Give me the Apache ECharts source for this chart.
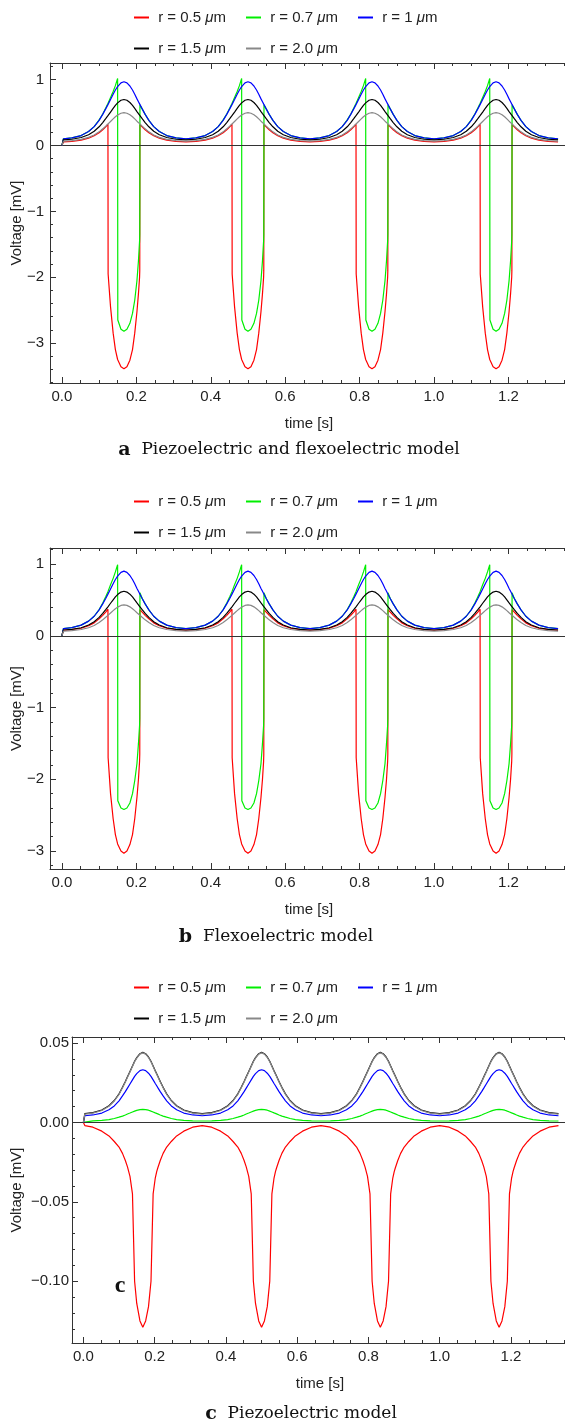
<!DOCTYPE html>
<html><head><meta charset="utf-8">
<script src="https://cdn.jsdelivr.net/npm/echarts@6/dist/echarts.min.js"></script>
<style>html,body{margin:0;padding:0;background:#fff}#c{width:565px;height:1424px}</style>
</head><body><div id="c"></div>
<script>
// time grid [s]
const time = [0, 0.004, 0.0267, 0.0517, 0.0717, 0.0867, 0.1, 0.1097, 0.1177, 0.1237, 0.1242, 0.1307, 0.1377, 0.1437, 0.1497, 0.1502, 0.1587, 0.1667, 0.1747, 0.1827, 0.1897, 0.1957, 0.2017, 0.2057, 0.2087, 0.2092, 0.2097, 0.2157, 0.2237, 0.2337, 0.2467, 0.2617, 0.2817, 0.3067,
  0.3333, 0.36, 0.385, 0.405, 0.42, 0.4333, 0.443, 0.451, 0.457, 0.4575, 0.464, 0.471, 0.477, 0.483, 0.4835, 0.492, 0.5, 0.508, 0.516, 0.523, 0.529, 0.535, 0.539, 0.542, 0.5425, 0.543, 0.549, 0.557, 0.567, 0.58, 0.595, 0.615, 0.64,
  0.6667, 0.6933, 0.7183, 0.7383, 0.7533, 0.7667, 0.7763, 0.7843, 0.7903, 0.7908, 0.7973, 0.8043, 0.8103, 0.8163, 0.8168, 0.8253, 0.8333, 0.8413, 0.8493, 0.8563, 0.8623, 0.8683, 0.8723, 0.8753, 0.8758, 0.8763, 0.8823, 0.8903, 0.9003, 0.9133, 0.9283, 0.9483, 0.9733,
  1.0, 1.0267, 1.0517, 1.0717, 1.0867, 1.1, 1.1097, 1.1177, 1.1237, 1.1242, 1.1307, 1.1377, 1.1437, 1.1497, 1.1502, 1.1587, 1.1667, 1.1747, 1.1827, 1.1897, 1.1957, 1.2017, 1.2057, 1.2087, 1.2092, 1.2097, 1.2157, 1.2237, 1.2337, 1.2467, 1.2617, 1.2817, 1.3067,
  1.3333];

const seriesNames = ['r = 0.5 μm', 'r = 0.7 μm', 'r = 1 μm', 'r = 1.5 μm', 'r = 2.0 μm'];
const seriesColors = ['#ff0000', '#00ee00', '#0000ff', '#000000', '#888888'];

// ---- panel a: piezoelectric and flexoelectric model ----
const redA = [0,
  0.055, 0.063, 0.082, 0.112, 0.15, 0.195, 0.24, 0.283, 0.325, -1.95, -2.45, -2.85, -3.1, -3.25, -3.26, -3.36, -3.39, -3.36, -3.26, -3.1, -2.85, -2.52, -2.25, -2.0, -1.9, 0.32, 0.285, 0.24, 0.195, 0.15, 0.112, 0.082, 0.063,
  0.055, 0.063, 0.082, 0.112, 0.15, 0.195, 0.24, 0.283, 0.325, -1.95, -2.45, -2.85, -3.1, -3.25, -3.26, -3.36, -3.39, -3.36, -3.26, -3.1, -2.85, -2.52, -2.25, -2.0, -1.9, 0.32, 0.285, 0.24, 0.195, 0.15, 0.112, 0.082, 0.063,
  0.055, 0.063, 0.082, 0.112, 0.15, 0.195, 0.24, 0.283, 0.325, -1.95, -2.45, -2.85, -3.1, -3.25, -3.26, -3.36, -3.39, -3.36, -3.26, -3.1, -2.85, -2.52, -2.25, -2.0, -1.9, 0.32, 0.285, 0.24, 0.195, 0.15, 0.112, 0.082, 0.063,
  0.055, 0.063, 0.082, 0.112, 0.15, 0.195, 0.24, 0.283, 0.325, -1.95, -2.45, -2.85, -3.1, -3.25, -3.26, -3.36, -3.39, -3.36, -3.26, -3.1, -2.85, -2.52, -2.25, -2.0, -1.9, 0.32, 0.285, 0.24, 0.195, 0.15, 0.112, 0.082, 0.063,
  0.055];
const greenA = [0,
  0.1, 0.116, 0.152, 0.213, 0.287, 0.39, 0.48, 0.57, 0.64, 0.645, 0.73, 0.82, 0.91, 1.02, -2.65, -2.79, -2.82, -2.79, -2.70, -2.55, -2.35, -2.05, -1.75, -1.45, -1.35, 0.62, 0.557, 0.474, 0.383, 0.287, 0.213, 0.152, 0.116,
  0.1, 0.116, 0.152, 0.213, 0.287, 0.39, 0.48, 0.57, 0.64, 0.645, 0.73, 0.82, 0.91, 1.02, -2.65, -2.79, -2.82, -2.79, -2.70, -2.55, -2.35, -2.05, -1.75, -1.45, -1.35, 0.62, 0.557, 0.474, 0.383, 0.287, 0.213, 0.152, 0.116,
  0.1, 0.116, 0.152, 0.213, 0.287, 0.39, 0.48, 0.57, 0.64, 0.645, 0.73, 0.82, 0.91, 1.02, -2.65, -2.79, -2.82, -2.79, -2.70, -2.55, -2.35, -2.05, -1.75, -1.45, -1.35, 0.62, 0.557, 0.474, 0.383, 0.287, 0.213, 0.152, 0.116,
  0.1, 0.116, 0.152, 0.213, 0.287, 0.39, 0.48, 0.57, 0.64, 0.645, 0.73, 0.82, 0.91, 1.02, -2.65, -2.79, -2.82, -2.79, -2.70, -2.55, -2.35, -2.05, -1.75, -1.45, -1.35, 0.62, 0.557, 0.474, 0.383, 0.287, 0.213, 0.152, 0.116,
  0.1];
const blueA = [0,
  0.1, 0.116, 0.152, 0.213, 0.287, 0.383, 0.474, 0.557, 0.622, 0.627, 0.70, 0.779, 0.844, 0.896, 0.9, 0.953, 0.97, 0.953, 0.905, 0.844, 0.779, 0.709, 0.666, 0.633, 0.627, 0.622, 0.557, 0.474, 0.383, 0.287, 0.213, 0.152, 0.116,
  0.1, 0.116, 0.152, 0.213, 0.287, 0.383, 0.474, 0.557, 0.622, 0.627, 0.70, 0.779, 0.844, 0.896, 0.9, 0.953, 0.97, 0.953, 0.905, 0.844, 0.779, 0.709, 0.666, 0.633, 0.627, 0.622, 0.557, 0.474, 0.383, 0.287, 0.213, 0.152, 0.116,
  0.1, 0.116, 0.152, 0.213, 0.287, 0.383, 0.474, 0.557, 0.622, 0.627, 0.70, 0.779, 0.844, 0.896, 0.9, 0.953, 0.97, 0.953, 0.905, 0.844, 0.779, 0.709, 0.666, 0.633, 0.627, 0.622, 0.557, 0.474, 0.383, 0.287, 0.213, 0.152, 0.116,
  0.1, 0.116, 0.152, 0.213, 0.287, 0.383, 0.474, 0.557, 0.622, 0.627, 0.70, 0.779, 0.844, 0.896, 0.9, 0.953, 0.97, 0.953, 0.905, 0.844, 0.779, 0.709, 0.666, 0.633, 0.627, 0.622, 0.557, 0.474, 0.383, 0.287, 0.213, 0.152, 0.116,
  0.1];
const blackA = [0,
  0.085, 0.096, 0.122, 0.165, 0.217, 0.285, 0.349, 0.408, 0.454, 0.458, 0.509, 0.565, 0.611, 0.648, 0.651, 0.688, 0.70, 0.688, 0.654, 0.611, 0.565, 0.516, 0.485, 0.462, 0.458, 0.454, 0.408, 0.349, 0.285, 0.217, 0.165, 0.122, 0.096,
  0.085, 0.096, 0.122, 0.165, 0.217, 0.285, 0.349, 0.408, 0.454, 0.458, 0.509, 0.565, 0.611, 0.648, 0.651, 0.688, 0.70, 0.688, 0.654, 0.611, 0.565, 0.516, 0.485, 0.462, 0.458, 0.454, 0.408, 0.349, 0.285, 0.217, 0.165, 0.122, 0.096,
  0.085, 0.096, 0.122, 0.165, 0.217, 0.285, 0.349, 0.408, 0.454, 0.458, 0.509, 0.565, 0.611, 0.648, 0.651, 0.688, 0.70, 0.688, 0.654, 0.611, 0.565, 0.516, 0.485, 0.462, 0.458, 0.454, 0.408, 0.349, 0.285, 0.217, 0.165, 0.122, 0.096,
  0.085, 0.096, 0.122, 0.165, 0.217, 0.285, 0.349, 0.408, 0.454, 0.458, 0.509, 0.565, 0.611, 0.648, 0.651, 0.688, 0.70, 0.688, 0.654, 0.611, 0.565, 0.516, 0.485, 0.462, 0.458, 0.454, 0.408, 0.349, 0.285, 0.217, 0.165, 0.122, 0.096,
  0.085];
const grayA = [0,
  0.068, 0.076, 0.094, 0.124, 0.161, 0.208, 0.254, 0.295, 0.327, 0.33, 0.366, 0.405, 0.437, 0.463, 0.465, 0.491, 0.5, 0.491, 0.468, 0.437, 0.405, 0.37, 0.349, 0.333, 0.33, 0.327, 0.295, 0.254, 0.208, 0.161, 0.124, 0.094, 0.076,
  0.068, 0.076, 0.094, 0.124, 0.161, 0.208, 0.254, 0.295, 0.327, 0.33, 0.366, 0.405, 0.437, 0.463, 0.465, 0.491, 0.5, 0.491, 0.468, 0.437, 0.405, 0.37, 0.349, 0.333, 0.33, 0.327, 0.295, 0.254, 0.208, 0.161, 0.124, 0.094, 0.076,
  0.068, 0.076, 0.094, 0.124, 0.161, 0.208, 0.254, 0.295, 0.327, 0.33, 0.366, 0.405, 0.437, 0.463, 0.465, 0.491, 0.5, 0.491, 0.468, 0.437, 0.405, 0.37, 0.349, 0.333, 0.33, 0.327, 0.295, 0.254, 0.208, 0.161, 0.124, 0.094, 0.076,
  0.068, 0.076, 0.094, 0.124, 0.161, 0.208, 0.254, 0.295, 0.327, 0.33, 0.366, 0.405, 0.437, 0.463, 0.465, 0.491, 0.5, 0.491, 0.468, 0.437, 0.405, 0.37, 0.349, 0.333, 0.33, 0.327, 0.295, 0.254, 0.208, 0.161, 0.124, 0.094, 0.076,
  0.068];

// ---- panel b: flexoelectric model ----
const redB = [0,
  0.075, 0.085, 0.105, 0.14, 0.18, 0.235, 0.285, 0.33, 0.37, -1.7, -2.2, -2.55, -2.77, -2.9, -2.91, -3.0, -3.03, -3.0, -2.91, -2.77, -2.55, -2.25, -2.0, -1.75, -1.65, 0.365, 0.33, 0.285, 0.235, 0.18, 0.14, 0.105, 0.085,
  0.075, 0.085, 0.105, 0.14, 0.18, 0.235, 0.285, 0.33, 0.37, -1.7, -2.2, -2.55, -2.77, -2.9, -2.91, -3.0, -3.03, -3.0, -2.91, -2.77, -2.55, -2.25, -2.0, -1.75, -1.65, 0.365, 0.33, 0.285, 0.235, 0.18, 0.14, 0.105, 0.085,
  0.075, 0.085, 0.105, 0.14, 0.18, 0.235, 0.285, 0.33, 0.37, -1.7, -2.2, -2.55, -2.77, -2.9, -2.91, -3.0, -3.03, -3.0, -2.91, -2.77, -2.55, -2.25, -2.0, -1.75, -1.65, 0.365, 0.33, 0.285, 0.235, 0.18, 0.14, 0.105, 0.085,
  0.075, 0.085, 0.105, 0.14, 0.18, 0.235, 0.285, 0.33, 0.37, -1.7, -2.2, -2.55, -2.77, -2.9, -2.91, -3.0, -3.03, -3.0, -2.91, -2.77, -2.55, -2.25, -2.0, -1.75, -1.65, 0.365, 0.33, 0.285, 0.235, 0.18, 0.14, 0.105, 0.085,
  0.075];
const greenB = [0,
  0.1, 0.114, 0.148, 0.204, 0.272, 0.365, 0.455, 0.545, 0.615, 0.62, 0.71, 0.8, 0.89, 0.99, -2.3, -2.4, -2.42, -2.4, -2.33, -2.2, -2.02, -1.78, -1.5, -1.25, -1.15, 0.6, 0.52, 0.444, 0.36, 0.272, 0.204, 0.148, 0.114,
  0.1, 0.114, 0.148, 0.204, 0.272, 0.365, 0.455, 0.545, 0.615, 0.62, 0.71, 0.8, 0.89, 0.99, -2.3, -2.4, -2.42, -2.4, -2.33, -2.2, -2.02, -1.78, -1.5, -1.25, -1.15, 0.6, 0.52, 0.444, 0.36, 0.272, 0.204, 0.148, 0.114,
  0.1, 0.114, 0.148, 0.204, 0.272, 0.365, 0.455, 0.545, 0.615, 0.62, 0.71, 0.8, 0.89, 0.99, -2.3, -2.4, -2.42, -2.4, -2.33, -2.2, -2.02, -1.78, -1.5, -1.25, -1.15, 0.6, 0.52, 0.444, 0.36, 0.272, 0.204, 0.148, 0.114,
  0.1, 0.114, 0.148, 0.204, 0.272, 0.365, 0.455, 0.545, 0.615, 0.62, 0.71, 0.8, 0.89, 0.99, -2.3, -2.4, -2.42, -2.4, -2.33, -2.2, -2.02, -1.78, -1.5, -1.25, -1.15, 0.6, 0.52, 0.444, 0.36, 0.272, 0.204, 0.148, 0.114,
  0.1];
const blueB = [0,
  0.1, 0.114, 0.148, 0.204, 0.272, 0.36, 0.444, 0.52, 0.58, 0.585, 0.652, 0.724, 0.784, 0.832, 0.836, 0.884, 0.9, 0.884, 0.84, 0.784, 0.724, 0.66, 0.62, 0.59, 0.585, 0.58, 0.52, 0.444, 0.36, 0.272, 0.204, 0.148, 0.114,
  0.1, 0.114, 0.148, 0.204, 0.272, 0.36, 0.444, 0.52, 0.58, 0.585, 0.652, 0.724, 0.784, 0.832, 0.836, 0.884, 0.9, 0.884, 0.84, 0.784, 0.724, 0.66, 0.62, 0.59, 0.585, 0.58, 0.52, 0.444, 0.36, 0.272, 0.204, 0.148, 0.114,
  0.1, 0.114, 0.148, 0.204, 0.272, 0.36, 0.444, 0.52, 0.58, 0.585, 0.652, 0.724, 0.784, 0.832, 0.836, 0.884, 0.9, 0.884, 0.84, 0.784, 0.724, 0.66, 0.62, 0.59, 0.585, 0.58, 0.52, 0.444, 0.36, 0.272, 0.204, 0.148, 0.114,
  0.1, 0.114, 0.148, 0.204, 0.272, 0.36, 0.444, 0.52, 0.58, 0.585, 0.652, 0.724, 0.784, 0.832, 0.836, 0.884, 0.9, 0.884, 0.84, 0.784, 0.724, 0.66, 0.62, 0.59, 0.585, 0.58, 0.52, 0.444, 0.36, 0.272, 0.204, 0.148, 0.114,
  0.1];
const blackB = [0,
  0.08, 0.09, 0.112, 0.15, 0.196, 0.256, 0.312, 0.364, 0.404, 0.407, 0.453, 0.501, 0.542, 0.574, 0.577, 0.609, 0.62, 0.609, 0.58, 0.542, 0.501, 0.458, 0.431, 0.411, 0.407, 0.404, 0.364, 0.312, 0.256, 0.196, 0.15, 0.112, 0.09,
  0.08, 0.09, 0.112, 0.15, 0.196, 0.256, 0.312, 0.364, 0.404, 0.407, 0.453, 0.501, 0.542, 0.574, 0.577, 0.609, 0.62, 0.609, 0.58, 0.542, 0.501, 0.458, 0.431, 0.411, 0.407, 0.404, 0.364, 0.312, 0.256, 0.196, 0.15, 0.112, 0.09,
  0.08, 0.09, 0.112, 0.15, 0.196, 0.256, 0.312, 0.364, 0.404, 0.407, 0.453, 0.501, 0.542, 0.574, 0.577, 0.609, 0.62, 0.609, 0.58, 0.542, 0.501, 0.458, 0.431, 0.411, 0.407, 0.404, 0.364, 0.312, 0.256, 0.196, 0.15, 0.112, 0.09,
  0.08, 0.09, 0.112, 0.15, 0.196, 0.256, 0.312, 0.364, 0.404, 0.407, 0.453, 0.501, 0.542, 0.574, 0.577, 0.609, 0.62, 0.609, 0.58, 0.542, 0.501, 0.458, 0.431, 0.411, 0.407, 0.404, 0.364, 0.312, 0.256, 0.196, 0.15, 0.112, 0.09,
  0.08];
const grayB = [0,
  0.065, 0.072, 0.087, 0.112, 0.143, 0.184, 0.222, 0.257, 0.284, 0.286, 0.317, 0.35, 0.377, 0.399, 0.401, 0.423, 0.43, 0.423, 0.403, 0.377, 0.35, 0.321, 0.302, 0.289, 0.286, 0.284, 0.257, 0.222, 0.184, 0.143, 0.112, 0.087, 0.072,
  0.065, 0.072, 0.087, 0.112, 0.143, 0.184, 0.222, 0.257, 0.284, 0.286, 0.317, 0.35, 0.377, 0.399, 0.401, 0.423, 0.43, 0.423, 0.403, 0.377, 0.35, 0.321, 0.302, 0.289, 0.286, 0.284, 0.257, 0.222, 0.184, 0.143, 0.112, 0.087, 0.072,
  0.065, 0.072, 0.087, 0.112, 0.143, 0.184, 0.222, 0.257, 0.284, 0.286, 0.317, 0.35, 0.377, 0.399, 0.401, 0.423, 0.43, 0.423, 0.403, 0.377, 0.35, 0.321, 0.302, 0.289, 0.286, 0.284, 0.257, 0.222, 0.184, 0.143, 0.112, 0.087, 0.072,
  0.065, 0.072, 0.087, 0.112, 0.143, 0.184, 0.222, 0.257, 0.284, 0.286, 0.317, 0.35, 0.377, 0.399, 0.401, 0.423, 0.43, 0.423, 0.403, 0.377, 0.35, 0.321, 0.302, 0.289, 0.286, 0.284, 0.257, 0.222, 0.184, 0.143, 0.112, 0.087, 0.072,
  0.065];

// ---- panel c: piezoelectric model ----
const redC = [0,
  -0.002, -0.003, -0.0055, -0.0085, -0.012, -0.0155, -0.0195, -0.024, -0.028, -0.0285, -0.034, -0.045, -0.10, -0.114, -0.115, -0.125, -0.129, -0.125, -0.116, -0.10, -0.045, -0.035, -0.031, -0.0287, -0.0285, -0.028, -0.024, -0.0195, -0.0155, -0.012, -0.0085, -0.0055, -0.003,
  -0.002, -0.003, -0.0055, -0.0085, -0.012, -0.0155, -0.0195, -0.024, -0.028, -0.0285, -0.034, -0.045, -0.10, -0.114, -0.115, -0.125, -0.129, -0.125, -0.116, -0.10, -0.045, -0.035, -0.031, -0.0287, -0.0285, -0.028, -0.024, -0.0195, -0.0155, -0.012, -0.0085, -0.0055, -0.003,
  -0.002, -0.003, -0.0055, -0.0085, -0.012, -0.0155, -0.0195, -0.024, -0.028, -0.0285, -0.034, -0.045, -0.10, -0.114, -0.115, -0.125, -0.129, -0.125, -0.116, -0.10, -0.045, -0.035, -0.031, -0.0287, -0.0285, -0.028, -0.024, -0.0195, -0.0155, -0.012, -0.0085, -0.0055, -0.003,
  -0.002, -0.003, -0.0055, -0.0085, -0.012, -0.0155, -0.0195, -0.024, -0.028, -0.0285, -0.034, -0.045, -0.10, -0.114, -0.115, -0.125, -0.129, -0.125, -0.116, -0.10, -0.045, -0.035, -0.031, -0.0287, -0.0285, -0.028, -0.024, -0.0195, -0.0155, -0.012, -0.0085, -0.0055, -0.003,
  -0.002];
const greenC = [0,
  0.0009, 0.001, 0.0013, 0.0018, 0.0025, 0.0033, 0.004, 0.0047, 0.0053, 0.0053, 0.0059, 0.0066, 0.0071, 0.0076, 0.0076, 0.0081, 0.0082, 0.0081, 0.0077, 0.0071, 0.0066, 0.006, 0.0056, 0.0054, 0.0053, 0.0053, 0.0047, 0.004, 0.0033, 0.0025, 0.0018, 0.0013, 0.001,
  0.0009, 0.001, 0.0013, 0.0018, 0.0025, 0.0033, 0.004, 0.0047, 0.0053, 0.0053, 0.0059, 0.0066, 0.0071, 0.0076, 0.0076, 0.0081, 0.0082, 0.0081, 0.0077, 0.0071, 0.0066, 0.006, 0.0056, 0.0054, 0.0053, 0.0053, 0.0047, 0.004, 0.0033, 0.0025, 0.0018, 0.0013, 0.001,
  0.0009, 0.001, 0.0013, 0.0018, 0.0025, 0.0033, 0.004, 0.0047, 0.0053, 0.0053, 0.0059, 0.0066, 0.0071, 0.0076, 0.0076, 0.0081, 0.0082, 0.0081, 0.0077, 0.0071, 0.0066, 0.006, 0.0056, 0.0054, 0.0053, 0.0053, 0.0047, 0.004, 0.0033, 0.0025, 0.0018, 0.0013, 0.001,
  0.0009, 0.001, 0.0013, 0.0018, 0.0025, 0.0033, 0.004, 0.0047, 0.0053, 0.0053, 0.0059, 0.0066, 0.0071, 0.0076, 0.0076, 0.0081, 0.0082, 0.0081, 0.0077, 0.0071, 0.0066, 0.006, 0.0056, 0.0054, 0.0053, 0.0053, 0.0047, 0.004, 0.0033, 0.0025, 0.0018, 0.0013, 0.001,
  0.0009];
const blueC = [0,
  0.0042, 0.0047, 0.0059, 0.008, 0.0104, 0.0136, 0.0167, 0.0194, 0.0216, 0.0218, 0.0242, 0.0268, 0.029, 0.0307, 0.0309, 0.0326, 0.0332, 0.0326, 0.031, 0.029, 0.0268, 0.0245, 0.0231, 0.022, 0.0218, 0.0216, 0.0194, 0.0167, 0.0136, 0.0104, 0.008, 0.0059, 0.0047,
  0.0042, 0.0047, 0.0059, 0.008, 0.0104, 0.0136, 0.0167, 0.0194, 0.0216, 0.0218, 0.0242, 0.0268, 0.029, 0.0307, 0.0309, 0.0326, 0.0332, 0.0326, 0.031, 0.029, 0.0268, 0.0245, 0.0231, 0.022, 0.0218, 0.0216, 0.0194, 0.0167, 0.0136, 0.0104, 0.008, 0.0059, 0.0047,
  0.0042, 0.0047, 0.0059, 0.008, 0.0104, 0.0136, 0.0167, 0.0194, 0.0216, 0.0218, 0.0242, 0.0268, 0.029, 0.0307, 0.0309, 0.0326, 0.0332, 0.0326, 0.031, 0.029, 0.0268, 0.0245, 0.0231, 0.022, 0.0218, 0.0216, 0.0194, 0.0167, 0.0136, 0.0104, 0.008, 0.0059, 0.0047,
  0.0042, 0.0047, 0.0059, 0.008, 0.0104, 0.0136, 0.0167, 0.0194, 0.0216, 0.0218, 0.0242, 0.0268, 0.029, 0.0307, 0.0309, 0.0326, 0.0332, 0.0326, 0.031, 0.029, 0.0268, 0.0245, 0.0231, 0.022, 0.0218, 0.0216, 0.0194, 0.0167, 0.0136, 0.0104, 0.008, 0.0059, 0.0047,
  0.0042];
const blackC = [0,
  0.0055, 0.0062, 0.0078, 0.0105, 0.0138, 0.018, 0.0221, 0.0258, 0.0287, 0.0289, 0.0321, 0.0356, 0.0385, 0.0408, 0.041, 0.0433, 0.0441, 0.0433, 0.0412, 0.0385, 0.0356, 0.0325, 0.0306, 0.0292, 0.0289, 0.0287, 0.0258, 0.0221, 0.018, 0.0138, 0.0105, 0.0078, 0.0062,
  0.0055, 0.0062, 0.0078, 0.0105, 0.0138, 0.018, 0.0221, 0.0258, 0.0287, 0.0289, 0.0321, 0.0356, 0.0385, 0.0408, 0.041, 0.0433, 0.0441, 0.0433, 0.0412, 0.0385, 0.0356, 0.0325, 0.0306, 0.0292, 0.0289, 0.0287, 0.0258, 0.0221, 0.018, 0.0138, 0.0105, 0.0078, 0.0062,
  0.0055, 0.0062, 0.0078, 0.0105, 0.0138, 0.018, 0.0221, 0.0258, 0.0287, 0.0289, 0.0321, 0.0356, 0.0385, 0.0408, 0.041, 0.0433, 0.0441, 0.0433, 0.0412, 0.0385, 0.0356, 0.0325, 0.0306, 0.0292, 0.0289, 0.0287, 0.0258, 0.0221, 0.018, 0.0138, 0.0105, 0.0078, 0.0062,
  0.0055, 0.0062, 0.0078, 0.0105, 0.0138, 0.018, 0.0221, 0.0258, 0.0287, 0.0289, 0.0321, 0.0356, 0.0385, 0.0408, 0.041, 0.0433, 0.0441, 0.0433, 0.0412, 0.0385, 0.0356, 0.0325, 0.0306, 0.0292, 0.0289, 0.0287, 0.0258, 0.0221, 0.018, 0.0138, 0.0105, 0.0078, 0.0062,
  0.0055];
const grayC = [0,
  0.0052, 0.0059, 0.0075, 0.0102, 0.0135, 0.0177, 0.0218, 0.0255, 0.0284, 0.0286, 0.0318, 0.0353, 0.0382, 0.0405, 0.0407, 0.043, 0.0438, 0.043, 0.0409, 0.0382, 0.0353, 0.0322, 0.0303, 0.0289, 0.0286, 0.0284, 0.0255, 0.0218, 0.0177, 0.0135, 0.0102, 0.0075, 0.0059,
  0.0052, 0.0059, 0.0075, 0.0102, 0.0135, 0.0177, 0.0218, 0.0255, 0.0284, 0.0286, 0.0318, 0.0353, 0.0382, 0.0405, 0.0407, 0.043, 0.0438, 0.043, 0.0409, 0.0382, 0.0353, 0.0322, 0.0303, 0.0289, 0.0286, 0.0284, 0.0255, 0.0218, 0.0177, 0.0135, 0.0102, 0.0075, 0.0059,
  0.0052, 0.0059, 0.0075, 0.0102, 0.0135, 0.0177, 0.0218, 0.0255, 0.0284, 0.0286, 0.0318, 0.0353, 0.0382, 0.0405, 0.0407, 0.043, 0.0438, 0.043, 0.0409, 0.0382, 0.0353, 0.0322, 0.0303, 0.0289, 0.0286, 0.0284, 0.0255, 0.0218, 0.0177, 0.0135, 0.0102, 0.0075, 0.0059,
  0.0052, 0.0059, 0.0075, 0.0102, 0.0135, 0.0177, 0.0218, 0.0255, 0.0284, 0.0286, 0.0318, 0.0353, 0.0382, 0.0405, 0.0407, 0.043, 0.0438, 0.043, 0.0409, 0.0382, 0.0353, 0.0322, 0.0303, 0.0289, 0.0286, 0.0284, 0.0255, 0.0218, 0.0177, 0.0135, 0.0102, 0.0075, 0.0059,
  0.0052];

const captions = [
  {letter: 'a', text: 'Piezoelectric and flexoelectric model'},
  {letter: 'b', text: 'Flexoelectric model'},
  {letter: 'c', text: 'Piezoelectric model'}
];
const yTitle = 'Voltage [mV]';
const xTitle = 'time [s]';

// ---------- layout ----------
const SANS = '"Liberation Sans", Arial, sans-serif';
const SERIF = '"DejaVu Serif", "Liberation Serif", serif';
const AX = '#333';
const panels = [
  {grid: {left: 50, top: 63, width: 518, height: 320}, ymin: -3.607, ymax: 1.254, ysplit: 5, dec: 0,
   vals: [redA, greenA, blueA, blackA, grayA], legTop: [5, 36], labMargin: 6,
   cap: {x: 289, y: 450}},
  {grid: {left: 50, top: 548, width: 518, height: 321}, ymin: -3.25, ymax: 1.223, ysplit: 5, dec: 0,
   vals: [redB, greenB, blueB, blackB, grayB], legTop: [489, 520], labMargin: 6,
   cap: {x: 276, y: 937}},
  {grid: {left: 72, top: 1037, width: 496, height: 306}, ymin: -0.1389, ymax: 0.0538, ysplit: 4, dec: 2,
   vals: [redC, greenC, blueC, blackC, grayC], legTop: [975, 1006], labMargin: 3,
   cap: {x: 301, y: 1414}}
];
const XMIN = -0.032, XMAX = 1.36;
const minus = (s) => s.replace('-', '\u2212');

const option = {
  animation: false,
  backgroundColor: '#fff',
  grid: [], xAxis: [], yAxis: [], series: [], legend: [], graphic: []
};

panels.forEach((p, k) => {
  option.grid.push(Object.assign({containLabel: false, outerBoundsMode: 'none'}, p.grid));
  const tickStyle = {show: true, inside: true, length: 6, lineStyle: {color: AX, width: 1}};
  const minorStyle = {show: true, splitNumber: 4, length: 3, lineStyle: {color: AX, width: 1}};
  option.xAxis.push({
    type: 'value', gridIndex: k, min: XMIN, max: XMAX, splitNumber: 7, position: 'bottom',
    axisLine: {show: true, onZero: false, lineStyle: {color: AX, width: 1}},
    axisTick: tickStyle, minorTick: minorStyle, splitLine: {show: false},
    axisLabel: {show: true, showMinLabel: false, showMaxLabel: false, margin: 6, color: '#222', fontFamily: SANS, fontSize: 15,
      formatter: (v) => minus(v.toFixed(1))},
    name: xTitle, nameLocation: 'middle', nameGap: 33,
    nameTextStyle: {color: '#222', fontFamily: SANS, fontSize: 15}
  });
  option.yAxis.push({
    type: 'value', gridIndex: k, min: p.ymin, max: p.ymax, splitNumber: p.ysplit,
    axisLine: {show: true, onZero: false, lineStyle: {color: AX, width: 1}},
    axisTick: tickStyle, minorTick: Object.assign({}, minorStyle, {splitNumber: 5}), splitLine: {show: false},
    axisLabel: {show: true, showMinLabel: false, showMaxLabel: false, margin: p.labMargin, color: '#222', fontFamily: SANS, fontSize: 15,
      formatter: (v) => minus(v.toFixed(p.dec))}
  });
  // rotated y-axis title
  option.graphic.push({
    type: 'text', x: 17, y: p.grid.top + p.grid.height / 2, rotation: Math.PI / 2, silent: true,
    style: {text: yTitle, align: 'center', verticalAlign: 'middle', font: '15px ' + SANS, fill: '#222'}
  });
});
// mirrored top ticks
panels.forEach((p, k) => {
  option.xAxis.push({
    type: 'value', gridIndex: k, min: XMIN, max: XMAX, splitNumber: 7, position: 'top',
    axisLine: {show: true, onZero: false, lineStyle: {color: AX, width: 1}},
    axisTick: {show: true, inside: true, length: 6, lineStyle: {color: AX}},
    minorTick: {show: true, splitNumber: 4, length: 3, lineStyle: {color: AX}},
    splitLine: {show: false}, axisLabel: {show: false}
  });
});

panels.forEach((p, k) => {
  p.vals.forEach((arr, i) => {
    const s = {
      type: 'line', name: seriesNames[i], xAxisIndex: k, yAxisIndex: k,
      data: time.map((t, j) => [t, arr[j]]),
      symbol: 'none', showSymbol: false, clip: true,
      lineStyle: {color: seriesColors[i], width: 1.2},
      itemStyle: {color: seriesColors[i]},
      emphasis: {disabled: true}, z: 3 + i
    };
    if (i === 0) {
      s.markLine = {silent: true, symbol: 'none', label: {show: false},
        lineStyle: {color: '#333', width: 1, type: 'solid'}, data: [{yAxis: 0}]};
    }
    option.series.push(s);
  });
  const legBase = {
    left: 129, itemWidth: 15, itemHeight: 2, icon: 'rect', itemGap: 20, orient: 'horizontal',
    textStyle: {fontFamily: SANS, fontSize: 15, color: '#222',
      rich: {i: {fontFamily: SANS, fontSize: 15, fontStyle: 'italic', color: '#222'}}},
    formatter: (n) => ' ' + n.replace('μ', '{i|μ}'),
    selectedMode: false
  };
  option.legend.push(Object.assign({}, legBase, {top: p.legTop[0], data: seriesNames.slice(0, 3)}));
  option.legend.push(Object.assign({}, legBase, {top: p.legTop[1], data: seriesNames.slice(3)}));
  option.graphic.push({
    type: 'text', x: p.cap.x, y: p.cap.y, silent: true,
    style: {
      text: '{b|' + captions[k].letter + '}  ' + captions[k].text,
      align: 'center', verticalAlign: 'middle',
      font: '17px ' + SERIF, fill: '#111',
      rich: {b: {fontFamily: SERIF, fontSize: 19, fontWeight: 'bold', fill: '#111'}}
    }
  });
});
// panel label inside plot c
option.graphic.push({
  type: 'text', x: 120, y: 1286, silent: true,
  style: {text: 'c', align: 'center', verticalAlign: 'middle', font: 'bold 24px "Liberation Serif", serif', fill: '#111'}
});

const chart = echarts.init(document.getElementById('c'), null, {renderer: 'canvas'});
chart.setOption(option);
</script>
</body></html>
